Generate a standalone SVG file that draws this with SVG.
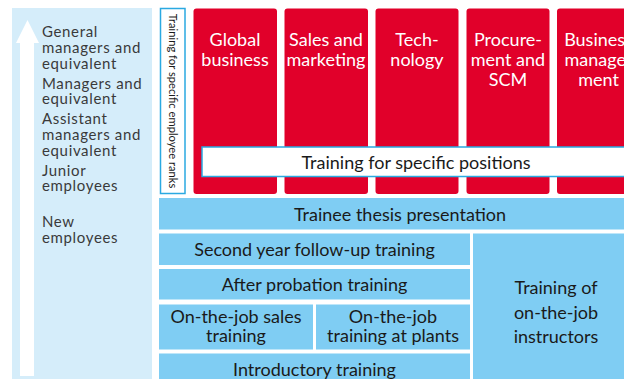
<svg xmlns="http://www.w3.org/2000/svg" width="624" height="379" viewBox="0 0 624 379">
  <style>
    text { font-family: Lato, "Open Sans", "Liberation Sans", sans-serif; }
    .rank { font-size: 15px; letter-spacing: 0.65px; fill: #3a3a3a; }
    .red { fill: #e1002a; }
    .redtxt { font-size: 18px; fill: #ffffff; text-anchor: middle; }
    .blue { fill: #7fcdf3; }
    .btxt { font-size: 18px; fill: #1a1a1a; text-anchor: middle; }
  </style>

  <!-- rank scale panel -->
  <g id="rank-scale">
    <rect x="12" y="8" width="140" height="371" fill="#d5edfa"/>
    <path d="M20 376 V43 H16 L27.5 20 L39 43 H34 V376 Z" fill="#ffffff"/>
    <text class="rank" x="42" y="37">General</text>
    <text class="rank" x="42" y="53">managers and</text>
    <text class="rank" x="42" y="68.5">equivalent</text>
    <text class="rank" x="42" y="88.5">Managers and</text>
    <text class="rank" x="42" y="104">equivalent</text>
    <text class="rank" x="42" y="124">Assistant</text>
    <text class="rank" x="42" y="140">managers and</text>
    <text class="rank" x="42" y="156">equivalent</text>
    <text class="rank" x="42" y="175.5">Junior</text>
    <text class="rank" x="42" y="191">employees</text>
    <text class="rank" x="42" y="227">New</text>
    <text class="rank" x="42" y="243">employees</text>
  </g>

  <!-- vertical label -->
  <g id="rank-label">
    <rect x="160.5" y="8.5" width="24.5" height="185" fill="#ffffff" stroke="#2aa9e1" stroke-width="1.5"/>
    <text transform="translate(168.5 101) rotate(90)" text-anchor="middle" font-size="11.2" fill="#1a1a1a">Training for specific employee ranks</text>
  </g>

  <!-- position columns -->
  <g id="global-business">
    <rect class="red" x="193.5" y="8.5" width="83.5" height="185.5" rx="3"/>
    <text class="redtxt" x="235" y="45.5">Global</text>
    <text class="redtxt" x="235" y="65.5">business</text>
  </g>
  <g id="sales-marketing">
    <rect class="red" x="284.5" y="8.5" width="83.5" height="185.5" rx="3"/>
    <text class="redtxt" x="326" y="45.5">Sales and</text>
    <text class="redtxt" x="326" y="65.5">marketing</text>
  </g>
  <g id="technology">
    <rect class="red" x="375.5" y="8.5" width="83" height="185.5" rx="3"/>
    <text class="redtxt" x="417" y="45.5">Tech-</text>
    <text class="redtxt" x="417" y="65.5">nology</text>
  </g>
  <g id="procurement">
    <rect class="red" x="466.5" y="8.5" width="83" height="185.5" rx="3"/>
    <text class="redtxt" x="508" y="45.5">Procure-</text>
    <text class="redtxt" x="508" y="65.5">ment and</text>
    <text class="redtxt" x="508" y="85.5">SCM</text>
  </g>
  <g id="business-management">
    <rect class="red" x="557" y="8.5" width="83" height="185.5" rx="3"/>
    <text class="redtxt" x="598.5" y="45.5">Business</text>
    <text class="redtxt" x="598.5" y="65.5">manage-</text>
    <text class="redtxt" x="598.5" y="85.5">ment</text>
  </g>

  <!-- positions bar -->
  <g id="specific-positions">
    <rect x="202" y="147" width="440" height="29.5" fill="#ffffff" stroke="#2aa9e1" stroke-width="1.5"/>
    <text x="416" y="168.5" font-size="18" fill="#1a1a1a" text-anchor="middle">Training for specific positions</text>
  </g>

  <!-- rank training blocks -->
  <g id="trainee-thesis">
    <rect class="blue" x="159" y="198" width="470" height="31.5"/>
    <text class="btxt" x="400" y="220.5">Trainee thesis presentation</text>
  </g>
  <g id="second-year">
    <rect class="blue" x="159" y="233.5" width="311" height="31.5"/>
    <text class="btxt" x="314.5" y="255.5">Second year follow-up training</text>
  </g>
  <g id="after-probation">
    <rect class="blue" x="159" y="269" width="311" height="30.5"/>
    <text class="btxt" x="314.5" y="290.5">After probation training</text>
  </g>
  <g id="ojt-sales">
    <rect class="blue" x="159" y="304.5" width="154" height="45"/>
    <text class="btxt" x="236" y="323">On-the-job sales</text>
    <text class="btxt" x="236" y="341.5">training</text>
  </g>
  <g id="ojt-plants">
    <rect class="blue" x="316" y="304.5" width="154" height="45"/>
    <text class="btxt" x="393" y="323">On-the-job</text>
    <text class="btxt" x="393" y="341.5">training at plants</text>
  </g>
  <g id="introductory">
    <rect class="blue" x="159" y="353.5" width="311" height="30"/>
    <text class="btxt" x="314.5" y="376">Introductory training</text>
  </g>
  <g id="ojt-instructors">
    <rect class="blue" x="473" y="233.5" width="170" height="150"/>
    <text class="btxt" x="556" y="294">Training of</text>
    <text class="btxt" x="556" y="319">on-the-job</text>
    <text class="btxt" x="556" y="342.5">instructors</text>
  </g>

  <g id="connectors"/>
</svg>
